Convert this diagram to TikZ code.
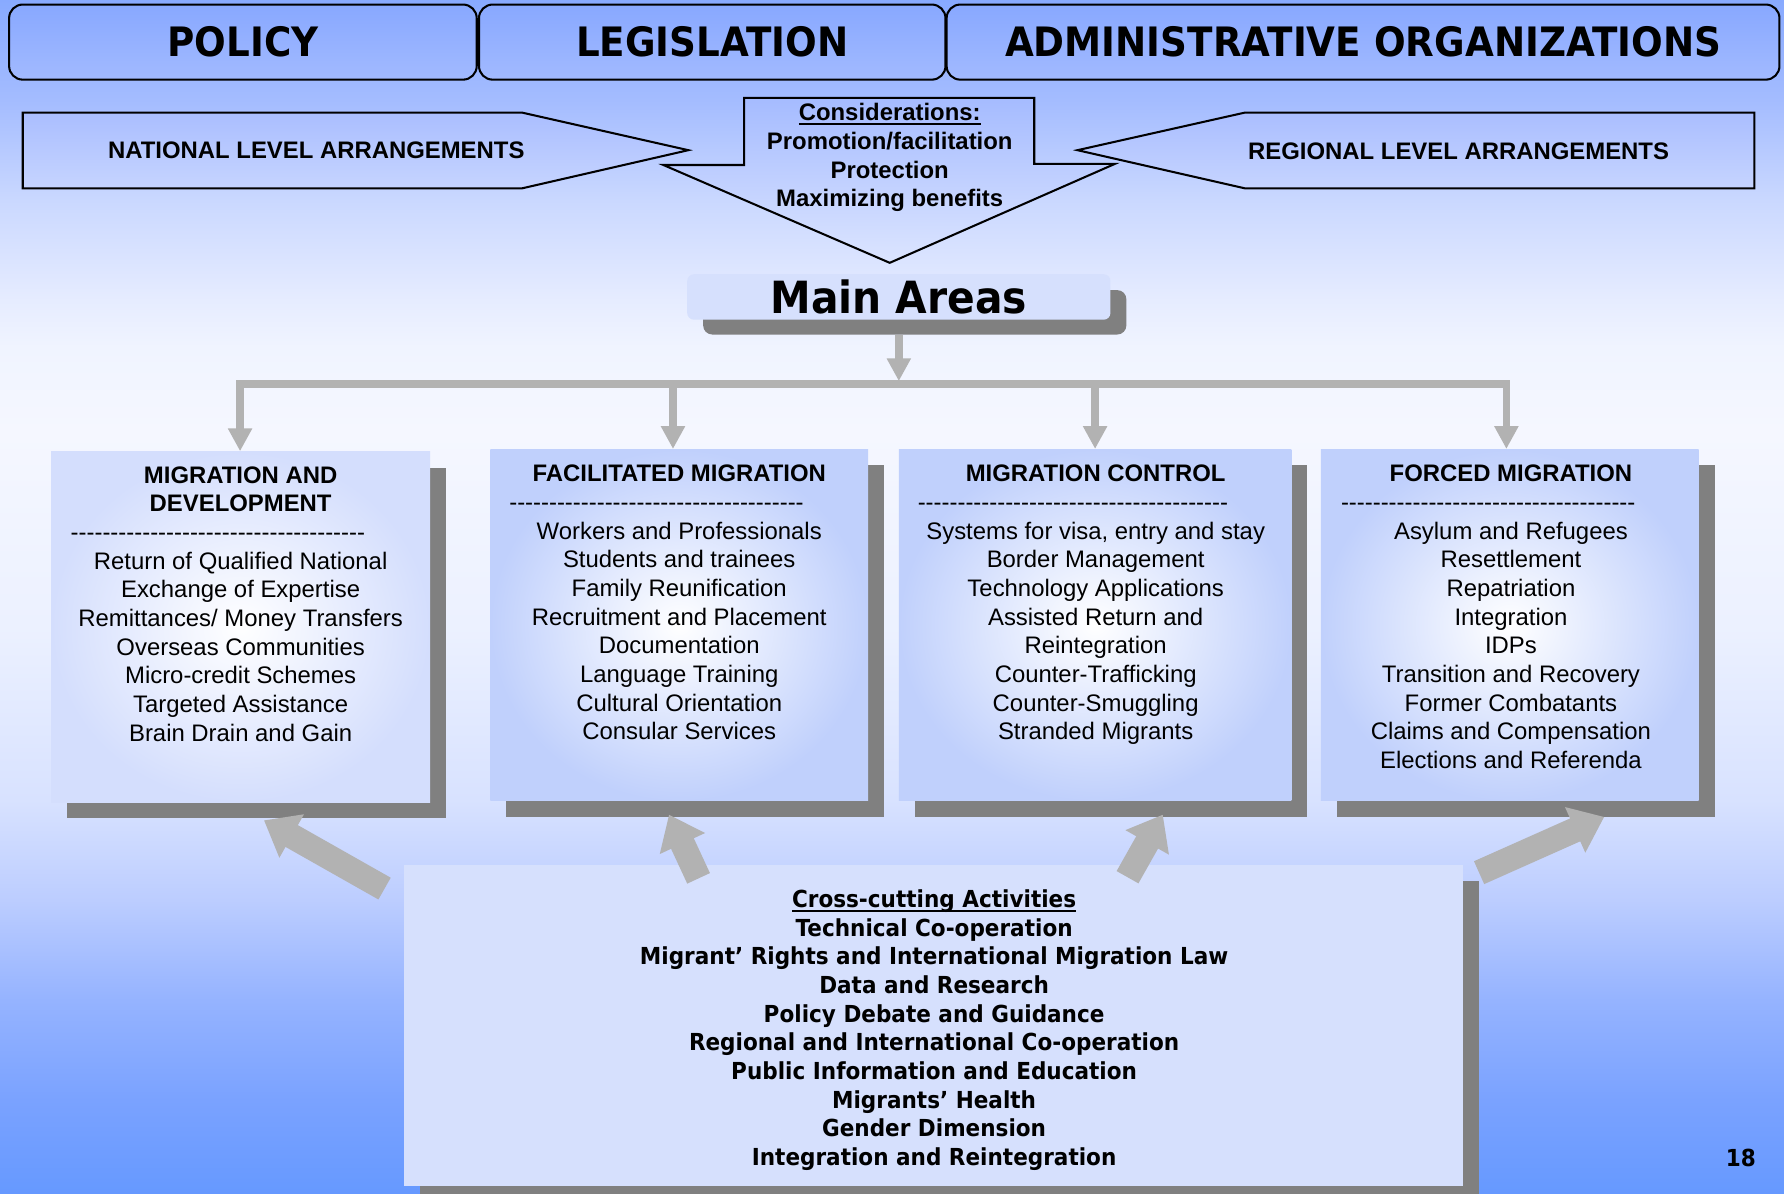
\documentclass[tikz,border=0pt]{standalone}
\usepackage{fontspec}
\setmainfont{Liberation Sans}
\newfontfamily\tah{DejaVu Sans}[FakeStretch=0.92]
\usetikzlibrary{arrows.meta}
\definecolor{bgA}{RGB}{102,153,255}
\definecolor{bgB}{RGB}{122,162,255}
\definecolor{bgC}{RGB}{149,179,255}
\definecolor{bgD}{RGB}{188,205,255}
\definecolor{bgE}{RGB}{216,226,255}
\definecolor{bgF}{RGB}{236,241,255}
\definecolor{bgG}{RGB}{245,247,255}
\definecolor{bgH}{RGB}{240,244,255}
\definecolor{bgI}{RGB}{230,236,255}
\definecolor{bgJ}{RGB}{202,216,255}
\definecolor{bgK}{RGB}{164,188,255}
\definecolor{bgL}{RGB}{136,170,255}
\definecolor{hdrtop}{RGB}{136,168,255}
\definecolor{hdrbot}{RGB}{162,186,255}
\definecolor{arrtop}{RGB}{170,190,255}
\definecolor{arrbot}{RGB}{198,212,255}
\definecolor{contop}{RGB}{165,187,255}
\definecolor{conbot}{RGB}{220,229,255}
\definecolor{shadowg}{RGB}{128,128,128}
\definecolor{conng}{RGB}{178,178,178}
\definecolor{boxedge}{RGB}{192,208,252}
\definecolor{boxedgeA}{RGB}{212,222,253}
\definecolor{lightbox}{RGB}{214,224,253}
\pgfdeclareverticalshading{bgshade}{100bp}{color(0bp)=(bgA); color(25bp)=(bgA); color(28.9bp)=(bgB); color(33.1bp)=(bgC); color(37.3bp)=(bgD); color(41.5bp)=(bgE); color(48.8bp)=(bgF); color(56.9bp)=(bgG); color(60.45bp)=(bgH); color(62.4bp)=(bgI); color(66.6bp)=(bgJ); color(70.8bp)=(bgK); color(75bp)=(bgL); color(100bp)=(bgL)}
\newcommand\myul[1]{\leavevmode\setbox0\hbox{#1}\rlap{\rule[-1.8pt]{\wd0}{0.8pt}}\box0}
\newcommand\dashrow[1]{\hbox{\foreach \i in {1,...,#1}{-\kern0pt}\kern20pt}}
\tikzset{
  hdr/.style={draw=black, line width=0.9pt, rounded corners=6pt, top color=hdrtop, bottom color=hdrbot, inner sep=0pt, font=\tah\bfseries\fontsize{17.8}{20}\selectfont},
  lvl/.style={draw=black, line width=0.9pt, top color=arrtop, bottom color=arrbot},
  lvltxt/.style={font=\bfseries\fontsize{10.5}{12.6}\selectfont, inner sep=0pt, align=center},
  shadowbox/.style={fill=shadowg, inner sep=0pt},
  areabox/.style={inner sep=0pt, inner color=white, outer color=boxedge},
  boxtxt/.style={font=\fontsize{10.5}{12.6}\selectfont, align=center, anchor=north, inner sep=0pt},
  conn/.style={draw=conng, line width=3.4pt, line join=miter, -{Triangle[width=10pt,length=10pt]}},
  blockarr/.style={draw=conng, line width=11pt, -{Triangle[width=21pt,length=14pt]}},
  crosstxt/.style={font=\tah\bfseries\fontsize{10.3}{12.6}\selectfont, align=center, anchor=north, inner sep=0pt}
}
\begin{document}
\begin{tikzpicture}[x=0.5pt, y=-0.5pt]
\useasboundingbox (0,0) rectangle (1568,1049);
\shade[shading=bgshade] (0,0) rectangle (1568,1049);
% headers
\node[hdr, minimum width=205.5pt, minimum height=33pt] (policy) at (213.5,37) {POLICY};
\node[hdr, minimum width=205pt, minimum height=33pt] (legis) at (626,37) {LEGISLATION};
\node[hdr, minimum width=366pt, minimum height=33pt] (admin) at (1198,37) {ADMINISTRATIVE ORGANIZATIONS};
% level arrows
\draw[lvl] (20,99) -- (459,99) -- (605,132) -- (459,165.5) -- (20,165.5) -- cycle;
\node[lvltxt] (national) at (278,132) {NATIONAL LEVEL ARRANGEMENTS};
\draw[lvl] (1542,99) -- (1094,99) -- (947,132) -- (1094,165.5) -- (1542,165.5) -- cycle;
\node[lvltxt] (regional) at (1282,133) {REGIONAL LEVEL ARRANGEMENTS};
% considerations
\draw[draw=black, line width=0.9pt, top color=contop, bottom color=conbot] (654,86) -- (909,86) -- (909,144) -- (980,144) -- (782,231) -- (583,145) -- (654,145) -- cycle;
\node[lvltxt, anchor=north] (consid) at (782,90.5) {\myul{Considerations:}\\Promotion/facilitation\\Protection\\Maximizing benefits};
% main areas
\node[shadowbox, rounded corners=4pt, minimum width=186pt, minimum height=19.5pt] (mainsh) at (804,274.5) {};
\node[fill=lightbox, rounded corners=3pt, minimum width=186pt, minimum height=20pt, inner sep=0pt, font=\tah\bfseries\fontsize{19.5}{22}\selectfont] (main) at (790,261) {Main Areas};
% area boxes
\node[shadowbox, minimum width=166.5pt, minimum height=154pt] (boxAsh) at (225.5,565) {};
\node[areabox, outer color=boxedgeA, minimum width=166.5pt, minimum height=154pt] (boxA) at (211.5,551) {};
\node[shadowbox, minimum width=166pt, minimum height=154.5pt] (boxBsh) at (611,563.5) {};
\node[areabox, minimum width=166pt, minimum height=154.5pt] (boxB) at (597,549.5) {};
\node[shadowbox, minimum width=172.5pt, minimum height=154.5pt] (boxCsh) at (976.5,563.5) {};
\node[areabox, minimum width=172.5pt, minimum height=154.5pt] (boxC) at (962.5,549.5) {};
\node[shadowbox, minimum width=166pt, minimum height=154.5pt] (boxDsh) at (1341,563.5) {};
\node[areabox, minimum width=166pt, minimum height=154.5pt] (boxD) at (1327,549.5) {};
% connectors
\coordinate (hub) at (790,335);
\coordinate (jA) at (211,337.5);
\coordinate (jB) at (591.5,337.5);
\coordinate (jC) at (962.5,337.5);
\coordinate (jD) at (1324,337.5);
\draw[conn, {Triangle[width=10pt,length=10pt]}-{Triangle[width=10pt,length=10pt]}] (jA |- boxA.north) -- (jA) -- (jD) -- (jD |- boxD.north);
\draw[conn] (jB) -- (jB |- boxB.north);
\draw[conn] (jC) -- (jC |- boxC.north);
\draw[conn] (main.south |- mainsh.south) -- (hub);
% box texts
\node[boxtxt] (txtA) at (211.5,409.5) {\textbf{MIGRATION AND}\\\textbf{DEVELOPMENT}\\\dashrow{37}\\Return of Qualified National\\Exchange of Expertise\\Remittances/ Money Transfers\\Overseas Communities\\Micro-credit Schemes\\Targeted Assistance\\Brain Drain and Gain};
\node[boxtxt] (txtB) at (597,408.5) {\textbf{FACILITATED MIGRATION}\\\dashrow{37}\\Workers and Professionals\\Students and trainees\\Family Reunification\\Recruitment and Placement\\Documentation\\Language Training\\Cultural Orientation\\Consular Services};
\node[boxtxt] (txtC) at (963,408.5) {\textbf{MIGRATION CONTROL}\\\dashrow{39}\\Systems for visa, entry and stay\\Border Management\\Technology Applications\\Assisted Return and\\Reintegration\\Counter-Trafficking\\Counter-Smuggling\\Stranded Migrants};
\node[boxtxt] (txtD) at (1328,408.5) {\textbf{FORCED MIGRATION}\\\dashrow{37}\\Asylum and Refugees\\Resettlement\\Repatriation\\Integration\\IDPs\\Transition and Recovery\\Former Combatants\\Claims and Compensation\\Elections and Referenda};
% cross-cutting
\node[shadowbox, minimum width=465.5pt, minimum height=141pt] (crosssh) at (834.5,915) {};
\node[fill=lightbox, inner sep=0pt, minimum width=465.5pt, minimum height=141pt] (cross) at (820.5,901) {};
\node[crosstxt] (crosstext) at (821,781.5) {\myul{Cross-cutting Activities}\\Technical Co-operation\\Migrant’ Rights and International Migration Law\\Data and Research\\Policy Debate and Guidance\\Regional and International Co-operation\\Public Information and Education\\Migrants’ Health\\Gender Dimension\\Integration and Reintegration};
% block arrows
\coordinate (a1s) at (338,781); \coordinate (a1e) at (232,721);
\coordinate (a2s) at (614,772); \coordinate (a2e) at (588,716);
\coordinate (a3s) at (991,771); \coordinate (a3e) at (1022,716);
\coordinate (a4s) at (1300,767); \coordinate (a4e) at (1410,718);
\draw[blockarr] (a1s) -- (a1e);
\draw[blockarr] (a2s) -- (a2e);
\draw[blockarr] (a3s) -- (a3e);
\draw[blockarr] (a4s) -- (a4e);
% page number
\node[inner sep=0pt, font=\tah\bfseries\fontsize{10.3}{12}\selectfont] (pnum) at (1530,1018) {18};
\end{tikzpicture}
\end{document}
